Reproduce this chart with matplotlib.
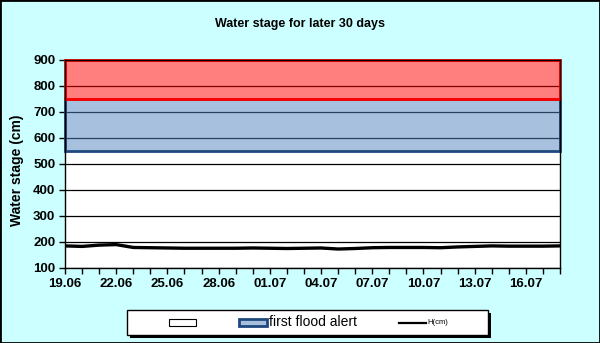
import matplotlib

matplotlib.use('Agg')
import matplotlib.pyplot as plt
import matplotlib.transforms as mtransforms
from matplotlib.lines import Line2D
from matplotlib.patches import Rectangle
import numpy as np

plt.rcParams['font.family'] = ['Liberation Sans', 'DejaVu Sans']

# daily water stage, 19.06 .. 18.07
days = np.arange(30)
stage_cm = [185, 183, 188, 190, 179, 178, 177, 176, 176, 176,
            176, 177, 176, 175, 176, 177, 173, 175, 178, 179,
            179, 179, 178, 181, 183, 185, 184, 184, 184, 185]
tick_labels = ['19.06', '22.06', '25.06', '28.06', '01.07',
               '04.07', '07.07', '10.07', '13.07', '16.07']
legend_labels = ['', 'first flood alert', 'H(cm)']

# alert levels (cm)
first_alert = (550, 750)
second_alert = (750, 900)

bg = '#CCFFFF'
W, H = 600, 343

fig = plt.figure(figsize=(W / 100, H / 100), dpi=100, facecolor=bg)
# pixel coordinates, origin top-left
px = mtransforms.Affine2D().scale(1 / W, -1 / H).translate(0, 1) + fig.transFigure

ax = fig.add_axes([65 / W, 1 - 268 / H, 495 / W, 208 / H])
ax.set_facecolor('white')

ax.set_xlim(0, 29)
ax.set_ylim(100, 900)
ax.set_yticks(np.arange(100, 901, 100))
ax.set_xticks(days, minor=True)
ax.set_xticks(days[::3])
ax.set_xticklabels(tick_labels)
ax.tick_params(axis='both', which='both', direction='out', length=4,
               width=1, color='black', labelsize=9.5, pad=3)
for lab in ax.get_xticklabels() + ax.get_yticklabels():
    lab.set_fontweight('bold')

ax.set_axisbelow(True)
ax.yaxis.grid(True, color='black', lw=0.9)
for sp in ax.spines.values():
    sp.set_color('black')
    sp.set_linewidth(1.0)

# alert bands, semi-transparent so the grid shows through darker
ax.add_patch(Rectangle((0, first_alert[0]), 29, first_alert[1] - first_alert[0],
                       facecolor=(0.31, 0.51, 0.74, 0.5), edgecolor='#1F497D',
                       lw=2.0, zorder=1.5, clip_on=False))
ax.add_patch(Rectangle((0, second_alert[0]), 29, second_alert[1] - second_alert[0],
                       facecolor=(1, 0, 0, 0.5), edgecolor='#FF0000',
                       lw=2.0, zorder=1.6, clip_on=False))

ax.plot(days, stage_cm, color='black', lw=2.4, zorder=3, solid_capstyle='butt')

fig.text(17 / W, 1 - 170 / H, 'Water stage (cm)', rotation=90, ha='center', va='center',
         fontsize=10, fontweight='bold')
fig.text(0.5, 1 - 24 / H, 'Water stage for later 30 days', ha='center', va='center',
         fontsize=9, fontweight='bold')

# legend box with a solid drop shadow
fig.add_artist(Rectangle((130, 313), 361, 25, transform=px, facecolor='black',
                         edgecolor='none'))
fig.add_artist(Rectangle((127, 310), 361, 25, transform=px, facecolor='white',
                         edgecolor='black', lw=1.0))
fig.add_artist(Rectangle((169, 319), 27, 7, transform=px, facecolor='white',
                         edgecolor='black', lw=0.8))
fig.add_artist(Rectangle((239, 319), 28, 7, transform=px, facecolor='#A7C0DE',
                         edgecolor='#1F497D', lw=2.0))
fig.add_artist(Line2D([399, 426], [322.5, 322.5], transform=px, color='black', lw=1.6))
fig.text(169, 322.5, legend_labels[0], transform=px, va='center', fontsize=10)
fig.text(269, 322.5, legend_labels[1], transform=px, va='center', fontsize=10)
fig.text(427, 323, legend_labels[2], transform=px, va='center', fontsize=5.5)

# outer border
fig.add_artist(Rectangle((0, 0), 1, 1, transform=fig.transFigure, fill=False,
                         edgecolor='black', lw=2))

fig.savefig('out.png', dpi=100, facecolor=bg)
